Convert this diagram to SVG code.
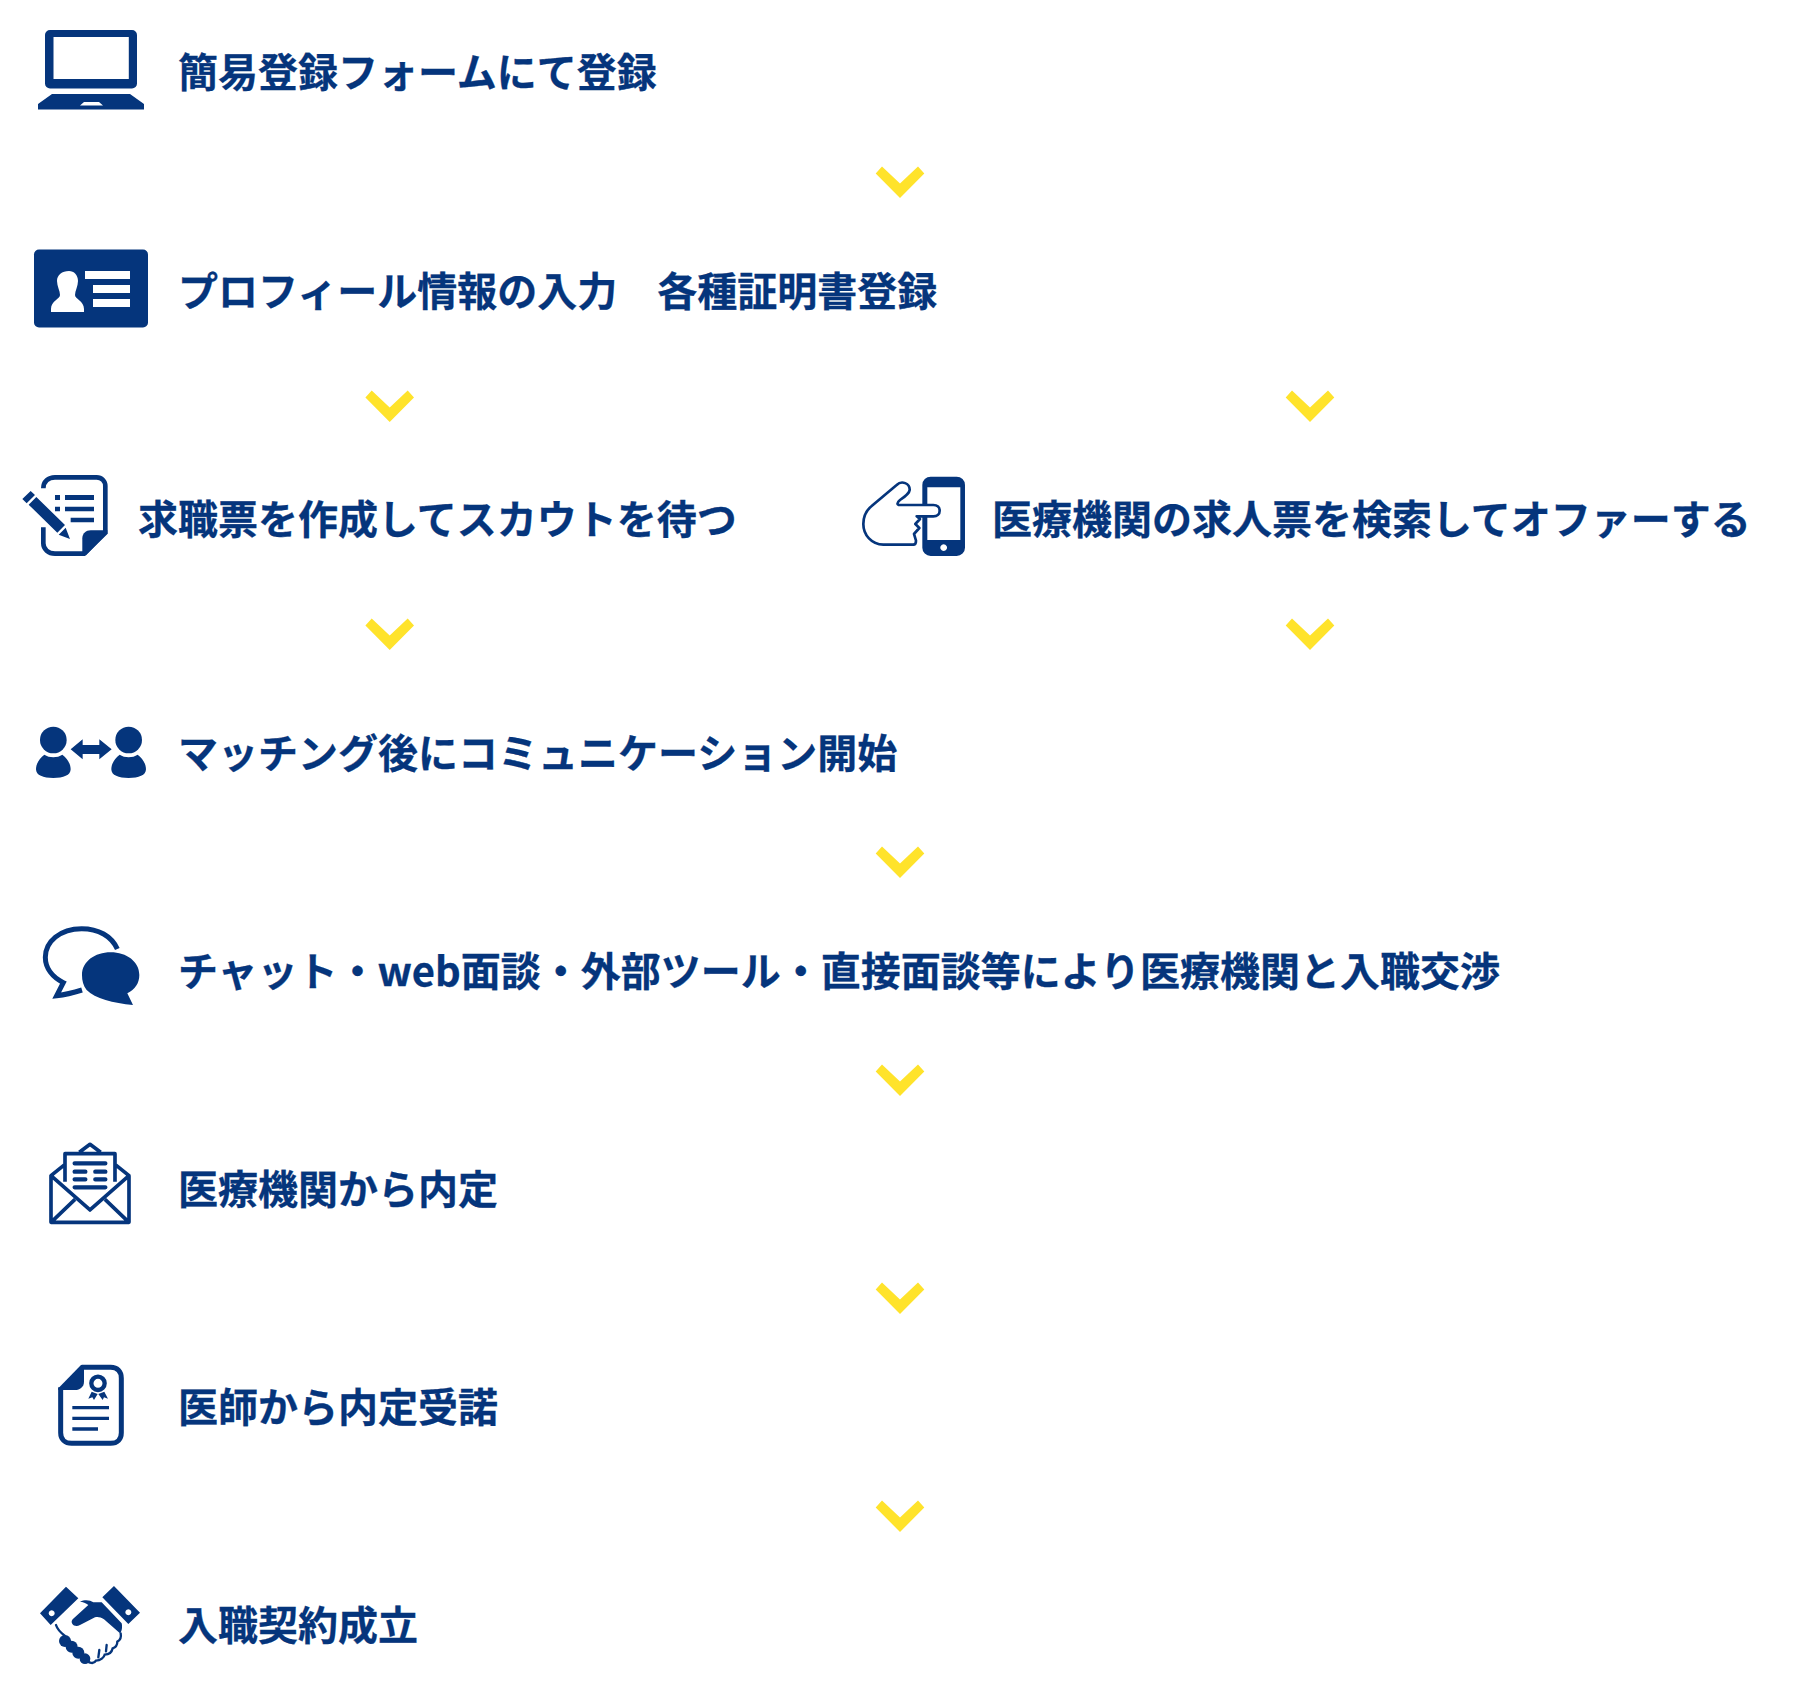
<svg xmlns="http://www.w3.org/2000/svg" width="1800" height="1706" viewBox="0 0 1800 1706">
<defs>
<style>
.t{font-family:"Noto Sans CJK JP","Noto Sans",sans-serif;font-weight:700;font-size:40px;fill:#05357c;stroke:#05357c;stroke-width:.3px}
.f{fill:#05357c}
.w{fill:#fff}
.s{fill:none;stroke:#05357c}
.c{fill:#ffe32b}
</style>
<polygon id="chev" points="-24.3,-8 -18,-15 0,2 18,-15 24.3,-8 0,16.5"/>
</defs>
<rect width="1800" height="1706" fill="#fff"/>
<g id="connectors" class="c">
<use href="#chev" x="900" y="181.500"/>
<use href="#chev" x="389.700" y="405.500"/>
<use href="#chev" x="1310" y="405.500"/>
<use href="#chev" x="389.700" y="633.500"/>
<use href="#chev" x="1310" y="633.500"/>
<use href="#chev" x="900" y="861.500"/>
<use href="#chev" x="900" y="1079.500"/>
<use href="#chev" x="900" y="1297.500"/>
<use href="#chev" x="900" y="1515.500"/>
</g>
<g id="n1">
<path class="f" fill-rule="evenodd" d="M50,30H132a5,5 0 0 1 5,5V83.500a5,5 0 0 1 -5,5H50a5,5 0 0 1 -5,-5V35a5,5 0 0 1 5,-5ZM53.500,37V79H128.800V37Z"/>
<path class="f" fill-rule="evenodd" d="M52,94H130L144,104V109.500H38V104ZM84,102L80,105.500H103L99,102Z"/>
<text class="t" x="178" y="87">簡易登録フォームにて登録</text>
</g>
<g id="n2">
<rect class="f" x="34" y="249.500" width="114" height="78" rx="5"/>
<path class="w" d="M69,271c5,0 9,4 9,10c0,5 -3,10 -3,14c0,4 9,6 9,14v3H51v-3c0,-8 9,-10 9,-14c0,-4 -3,-9 -3,-14c0,-6 5,-10 12,-10Z"/>
<rect class="w" x="85" y="271" width="45" height="8"/>
<rect class="w" x="93" y="285" width="37" height="8"/>
<rect class="w" x="93" y="299" width="37" height="8"/>
<text class="t" x="178" y="305.500">プロフィール情報の入力　各種証明書登録</text>
</g>
<g id="n3a">
<g transform="translate(0,450) scale(.3333)">
<path class="s" stroke-width="14" d="M130,115C130,95 145,82 165,82H290C305,82 316,93 316,108V248L252,311H165C145,311 130,298 130,280V232"/>
<path class="f" d="M247,316V265C247,250 258,241 272,241H322V250L258,316Z"/>
<path class="f" d="M165,135H180V150H165ZM195,135H282V150H195ZM165,170H180V184H165ZM195,170H282V184H195ZM212,203H282V217H212Z"/>
<path class="f" d="M92,123L105,135L80,160L67,147ZM109,141L195,225L172,248L86,164ZM197,233L210,267L176,254Z"/>
</g>
<text class="t" x="138" y="534">求職票を作成してスカウトを待つ</text>
</g>
<g id="n3b">
<g transform="translate(840,450) scale(.3333)">
<path class="f" fill-rule="evenodd" d="M272,80H350a25,25 0 0 1 25,25V293a25,25 0 0 1 -25,25H272a25,25 0 0 1 -25,-25V105a25,25 0 0 1 25,-25ZM262,112V270H361V112ZM311,283a10,10 0 1 0 .1,0Z"/>
<path class="w" stroke="#05357c" stroke-width="8" stroke-linejoin="round" d="M220,284H130C95,284 70,255 70,222C70,200 80,180 95,168L170,105C185,90 210,100 209,120C208,130 195,140 180,150C170,158 170,165 180,165H280C292,165 299,172 299,182C299,192 292,199 280,199H230L240,207L226,222L238,234L222,252L228,272C228,280 226,284 220,284Z"/>
</g>
<text class="t" x="992" y="534">医療機関の求人票を検索してオファーする</text>
</g>
<g id="n4">
<g transform="translate(0,450) scale(.3333)">
<circle class="f" cx="160" cy="870" r="40"/>
<circle class="f" cx="386" cy="870" r="40"/>
<path class="f" d="M133,914C148,924 172,924 187,914C202,925 212,942 212,958C212,976 190,984 160,984C130,984 108,976 108,958C108,942 118,925 133,914Z"/>
<path class="f" d="M359,914C374,924 398,924 413,914C428,925 438,942 438,958C438,976 416,984 386,984C356,984 334,976 334,958C334,942 344,925 359,914Z"/>
<path class="f" d="M212,898L248,868V885H298V868L335,898L298,928V912H248V928Z"/>
</g>
<text class="t" x="178" y="768">マッチング後にコミュニケーション開始</text>
</g>
<g id="n5">
<g transform="translate(20,910) scale(.3333)">
<path class="s" stroke-width="15" d="M292,117C275,78 235,56 185,56C120,56 76,95 76,142C76,175 98,202 130,218L110,257C135,254 160,248 186,240"/>
<path class="f" d="M272,127C320,127 358,155 358,195C358,220 345,238 322,250L339,285C280,280 225,265 200,240C190,228 186,212 186,195C186,155 224,127 272,127Z"/>
</g>
<text class="t" x="178" y="986">チャット・web面談・外部ツール・直接面談等により医療機関と入職交渉</text>
</g>
<g id="n6">
<g transform="translate(20,910) scale(.3333)">
<path class="s" stroke-width="11" stroke-linejoin="round" d="M93,797V937H327V797L210,900ZM93,797L135,763M327,797L285,763M93,937L165,868M327,937L255,868M135,815V731H285V815M178,727L210,703L242,727"/>
<path class="s" stroke-width="13" stroke-linecap="round" d="M164,760H256M164,785H196M226,785H256M164,808H196M226,808H256M164,832H256"/>
</g>
<text class="t" x="178" y="1204">医療機関から内定</text>
</g>
<g id="n7">
<g transform="translate(20,1350) scale(.3333)">
<path class="s" stroke-width="15" d="M185,52H272C292,52 304,65 304,85V248C304,268 292,280 272,280H155C135,280 122,268 122,248V112"/>
<path class="f" d="M115,115L183,45H192V95C192,110 180,120 165,120H115Z"/>
<circle class="s" stroke-width="13" cx="234" cy="100" r="20"/>
<path class="f" d="M215,125L233,132L222,150L217,142L205,146ZM253,125L235,132L248,150L252,142L264,146Z"/>
<path class="s" stroke-width="10" d="M157,173H267M157,205H267M157,237H234"/>
</g>
<text class="t" x="178" y="1422">医師から内定受諾</text>
</g>
<g id="n8">
<g transform="translate(30,1570) scale(.3333)">
<path class="f" fill-rule="evenodd" d="M108,50L145,85L62,165L30,130ZM65,121a9,9 0 1 0 .1,0Z"/>
<path class="f" fill-rule="evenodd" d="M252,48L330,128L295,162L217,82ZM295,118a9,9 0 1 0 .1,0Z"/>
<path class="s" stroke-width="7" stroke-linecap="round" d="M78,165C82,178 92,188 105,198L165,262C170,278 190,285 198,272C212,272 222,262 224,254C238,254 246,245 248,235C256,232 262,225 262,215C272,210 274,200 272,190"/>
<path class="s" stroke-width="7" stroke-linecap="round" d="M205,262L208,240M228,244L230,225"/>
<circle class="f" cx="105" cy="213" r="18"/>
<circle class="f" cx="125" cy="230" r="18"/>
<circle class="f" cx="145" cy="248" r="18"/>
<circle class="f" cx="165" cy="266" r="16"/>
<path class="f" d="M150,95C165,88 180,90 190,97H215L275,160C278,172 275,185 270,190L222,148C212,142 205,140 195,142L150,165C135,175 118,160 128,148L175,105C168,98 158,96 150,95Z"/>
</g>
<text class="t" x="178" y="1640">入職契約成立</text>
</g>
</svg>
